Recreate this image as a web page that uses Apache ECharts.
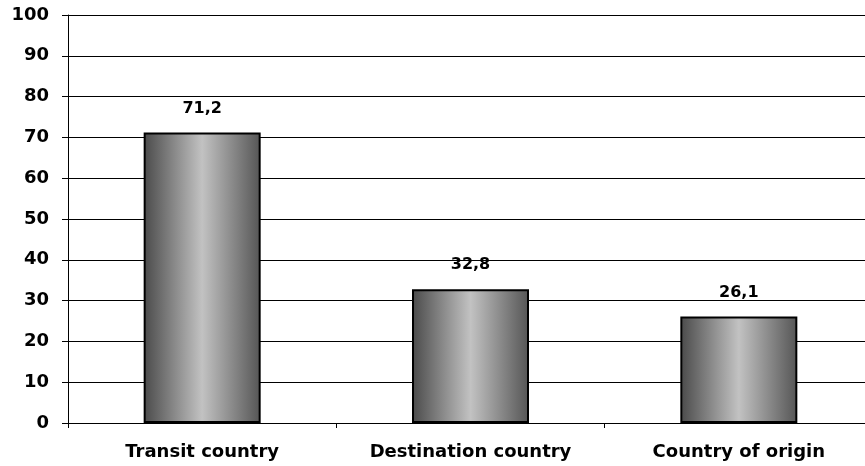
<!DOCTYPE html>
<html><head><meta charset="utf-8">
<script src="https://cdn.jsdelivr.net/npm/echarts@6/dist/echarts.min.js"></script>
<style>html,body{margin:0;padding:0;background:#fff}#c{width:865px;height:466px}</style>
</head><body><div id="c"></div>
<script>
var categories = ['Transit country', 'Destination country', 'Country of origin'];
var values = [71.2, 32.8, 26.1];
var yTicks = [0, 10, 20, 30, 40, 50, 60, 70, 80, 90, 100];

var chart = echarts.init(document.getElementById('c'), null, {renderer: 'canvas'});
var font = 'DejaVu Sans, Verdana, sans-serif';
chart.setOption({
  animation: false,
  backgroundColor: '#fff',
  grid: {left: 68, width: 805, top: 15, height: 408, containLabel: false, outerBoundsMode: 'none'},
  xAxis: {
    type: 'category',
    data: categories,
    axisLine: {lineStyle: {color: '#000', width: 1}},
    axisTick: {show: true, length: 5, inside: false, lineStyle: {color: '#000'}},
    axisLabel: {color: '#000', fontFamily: font, fontWeight: 'bold', fontSize: 18, margin: 20},
    splitLine: {show: false}
  },
  yAxis: {
    type: 'value',
    min: yTicks[0], max: yTicks[yTicks.length - 1], interval: 10,
    axisLine: {show: true, lineStyle: {color: '#000', width: 1}},
    axisTick: {show: true, length: 6, lineStyle: {color: '#000'}},
    axisLabel: {color: '#000', fontFamily: font, fontWeight: 'bold', fontSize: 18, margin: 19},
    splitLine: {show: true, lineStyle: {color: '#000', width: 1}}
  },
  series: [{
    type: 'bar',
    data: values,
    barWidth: 117,
    itemStyle: {
      borderColor: '#000',
      borderWidth: 2,
      color: {
        type: 'linear', x: 0, y: 0, x2: 1, y2: 0,
        colorStops: [
          {offset: 0, color: '#4a4a4a'},
          {offset: 0.5, color: '#c2c2c2'},
          {offset: 1, color: '#555555'}
        ]
      }
    },
    label: {
      show: true, position: 'top', distance: 16,
      color: '#000', fontFamily: font, fontWeight: 'bold', fontSize: 16,
      formatter: function (p) { return String(p.value.toFixed(1)).replace('.', ','); }
    }
  }]
});
</script>
</body></html>
